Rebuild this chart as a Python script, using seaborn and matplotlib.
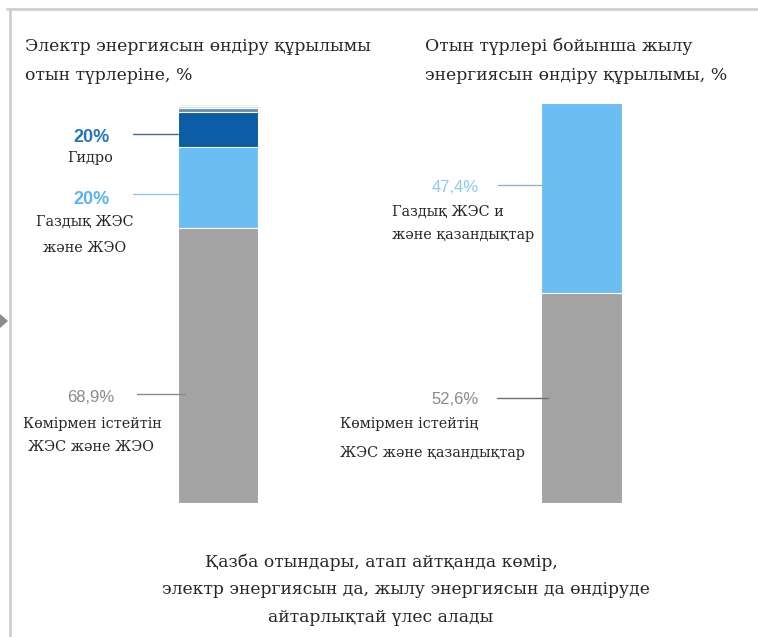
import numpy as np
import pandas as pd
import matplotlib
matplotlib.use("Agg")
import matplotlib.pyplot as plt
import seaborn as sns

# electricity generation by fuel, % (bottom to top)
elec_parts = ["coal", "gas", "hydro", "other1", "other2", "other3"]
elec_values = [68.9, 20.4, 8.6, 1.0, 0.7, 0.4]
elec_colors = ["#a3a3a3", "#6bbef3", "#0b5da6", "#6f8fa8", "#b9dcef", "#f3eecb"]

# heat generation by fuel, % (bottom to top)
heat_parts = ["coal", "gas"]
heat_values = [52.6, 47.4]
heat_colors = ["#a3a3a3", "#6bbef3"]

title_left = ["Электр энергиясын өндіру құрылымы", "отын түрлеріне, %"]
title_right = ["Отын түрлері бойынша жылу", "энергиясын өндіру құрылымы, %"]
footer = ["Қазба отындары, атап айтқанда көмір,",
          "электр энергиясын да, жылу энергиясын да өндіруде",
          "айтарлықтай үлес алады"]

W, H = 758, 637
sns.set_theme(style="white")
plt.rcParams["font.family"] = ["DejaVu Serif", "Liberation Serif"]
fig = plt.figure(figsize=(W / 100, H / 100), dpi=100)
fig.patch.set_facecolor("white")


def stacked(box, values, colors):
    x0, y0, x1, y1 = box
    ax = fig.add_axes([x0 / W, (H - y1) / H, (x1 - x0) / W, (y1 - y0) / H])
    tops = np.cumsum(values)
    # draw cumulative bars from the tallest down so each segment shows
    for top, c in zip(tops[::-1], colors[::-1]):
        df = pd.DataFrame({"g": ["a"], "v": [top]})
        sns.barplot(data=df, x="g", y="v", color=c, width=1.0, ax=ax,
                    saturation=1, edgecolor="white", linewidth=0.8)
    ax.set_xlim(-0.5, 0.5)
    ax.set_ylim(0, 100)
    ax.axis("off")
    return ax


stacked((178, 104, 258, 503), elec_values, elec_colors)
stacked((541, 103, 622, 503), heat_values, heat_colors)

# overlay in pixel coordinates for the frame, labels and leaders
ov = fig.add_axes([0, 0, 1, 1], zorder=5)
ov.set_xlim(0, W)
ov.set_ylim(H, 0)
ov.axis("off")
ov.patch.set_alpha(0)

ov.plot([7, W], [9, 9], color="#cfcfcf", lw=2)
ov.plot([10, 10], [9, H], color="#cfcfcf", lw=2)
ov.fill([0, 8, 0], [314, 321, 328], color="#8c8c8c", lw=0)

tkw = dict(fontsize=12.4, color="#262626", va="baseline")
ov.text(25, 51, title_left[0], **tkw)
ov.text(25, 80, title_left[1], **tkw)
ov.text(425, 51, title_right[0], **tkw)
ov.text(425, 80, title_right[1], **tkw)

fkw = dict(fontsize=12.3, color="#262626", va="baseline")
ov.text(205, 567, footer[0], **fkw)
ov.text(162, 594, footer[1], **fkw)
ov.text(268, 622, footer[2], **fkw)

pkw = dict(ha="center", va="center", fontweight="bold", fontsize=13,
           family=["Liberation Sans Narrow", "Liberation Sans"])
lkw = dict(ha="center", va="center", fontsize=10.4, color="#262626")

# left bar labels
ov.text(91, 137, "20%", color="#2476b8", **pkw)
ov.text(90, 158, "Гидро", **lkw)
ov.plot([133, 178], [134, 134], color="#3f6f95", lw=1)

ov.text(92, 200, "20%", color="#5bb4ee", **pkw)
ov.text(85, 222, "Газдық ЖЭС", **lkw)
ov.text(85, 248, "және ЖЭО", **lkw)
ov.plot([133, 178], [194, 194], color="#8fc8ee", lw=1)

pkw_g = dict(pkw, fontweight="normal", fontsize=12)
ov.text(91, 397, "68,9%", color="#8a8a8a", **pkw_g)
ov.text(92, 424, "Көмірмен істейтін", **lkw)
ov.text(91, 447, "ЖЭС және ЖЭО", **lkw)
ov.plot([137, 185], [394, 394], color="#8a8a8a", lw=1)

# right bar labels
ov.text(455, 188, "47,4%", color="#8cc8ef", **pkw_g)
ov.text(392, 212, "Газдық ЖЭС и", **dict(lkw, ha="left"))
ov.text(392, 235, "және қазандықтар", **dict(lkw, ha="left"))
ov.plot([498, 543], [185, 185], color="#8fb3c9", lw=1)

ov.text(455, 400, "52,6%", color="#8a8a8a", **pkw_g)
ov.text(340, 424, "Көмірмен істейтің", **dict(lkw, ha="left"))
ov.text(340, 453, "ЖЭС және қазандықтар", **dict(lkw, ha="left"))
ov.plot([497, 548], [398, 398], color="#6f6f6f", lw=1)

fig.savefig("out.png", dpi=100, facecolor="white")
